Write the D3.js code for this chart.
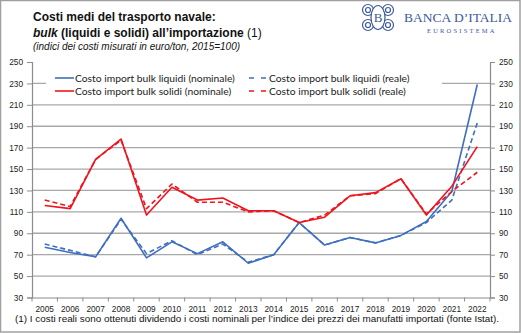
<!DOCTYPE html>
<html><head><meta charset="utf-8">
<script src="https://cdn.jsdelivr.net/npm/d3@7/dist/d3.min.js"></script>
<style>body{margin:0;background:#fff}svg{display:block}</style>
</head><body>
<svg id="c" width="521" height="333"></svg>
<script>
const years = ["2005","2006","2007","2008","2009","2010","2011","2012","2013","2014","2015","2016","2017","2018","2019","2020","2021","2022"];
const liquidiNominale = [77,72,68,104,67,82,71,82,62,70,100,79,86,81,88,101,129,229];
const liquidiReale    = [80,74,68,103,71,83,70,80,63,70,100,79,86,81,88,100,121,193];
const solidiNominale  = [116,113,159,178,107,133,121,123,111,111,100,105,125,128,141,107,134,171];
const solidiReale     = [121,115,159,177,113,136,119,119,110,111,100,107,125,127,141,108,129,147];
const yTicks = [30,50,70,90,110,130,150,170,190,210,230,250];
const legendLabels = ["Costo import bulk liquidi (nominale)","Costo import bulk liquidi (reale)","Costo import bulk solidi (nominale)","Costo import bulk solidi (reale)"];

const BLUE = "#3e6fc0", RED = "#f0141e";
const svg = d3.select("#c");
const L = 32, R = 490, T = 62, B = 297.5;
const x = d3.scaleBand().domain(years).range([L, R]);
const y = d3.scaleLinear().domain([30, 250]).range([B, T]);

// frame
svg.append("rect").attr("x",0.5).attr("y",0.5).attr("width",519.5).attr("height",331.5)
  .attr("fill","none").attr("stroke","#a0a0a0").attr("stroke-width",1.5);

// gridlines
svg.append("g").selectAll("line").data(yTicks.filter(d => d > 30 && d < 250)).join("line")
  .attr("x1", L).attr("x2", R).attr("y1", d => y(d)).attr("y2", d => y(d))
  .attr("stroke", "#a8a8a8").attr("stroke-width", 1.3);

// axes
const tickFont = g => g.selectAll("text").attr("font-family","Liberation Sans, Arial, sans-serif").attr("font-size","8.3px").attr("fill","#222");
const gl = svg.append("g").attr("transform",`translate(${L},0)`)
  .call(d3.axisLeft(y).tickValues(yTicks).tickSize(5).tickPadding(4));
const gr = svg.append("g").attr("transform",`translate(${R},0)`)
  .call(d3.axisRight(y).tickValues(yTicks).tickSize(5).tickPadding(4));
const gx = svg.append("g").attr("transform",`translate(0,${B})`)
  .call(d3.axisBottom(x).tickSize(0).tickPadding(9));
[gl,gr,gx].forEach(g => { g.select(".domain").attr("stroke","#8c8c8c").attr("stroke-width",1.2); g.selectAll("line").attr("stroke","#8c8c8c"); tickFont(g); });
// x ticks between categories
svg.append("g").selectAll("line").data(years.concat(["end"])).join("line")
  .attr("x1", (d,i) => L + i*x.step()).attr("x2", (d,i) => L + i*x.step())
  .attr("y1", B).attr("y2", B+4).attr("stroke","#8c8c8c");

// lines
const line = d3.line().x((d,i) => x(years[i]) + x.bandwidth()/2).y(d => y(d));
const series = [
  {v: liquidiNominale, c: BLUE, dash: null},
  {v: liquidiReale, c: BLUE, dash: "5,3"},
  {v: solidiNominale, c: RED, dash: null},
  {v: solidiReale, c: RED, dash: "5,3"}
];

svg.append("rect").attr("x",46).attr("y",67).attr("width",396).attr("height",31).attr("fill","#fff");

series.forEach(s => {
  svg.append("path").datum(s.v).attr("d", line).attr("fill","none")
    .attr("stroke", s.c).attr("stroke-width", 1.6).attr("stroke-dasharray", s.dash)
    .attr("stroke-linejoin","round");
});

// legend
const legPos = [[55,78],[249,78],[55,91],[249,91]];
legendLabels.forEach((t,i) => {
  const s = series[i], [lx,ly] = legPos[i];
  svg.append("line").attr("x1",lx).attr("x2",lx+19).attr("y1",ly).attr("y2",ly)
    .attr("stroke",s.c).attr("stroke-width",1.6).attr("stroke-dasharray", s.dash ? "5,7" : null);
  svg.append("text").attr("x",lx+20).attr("y",ly+3.5).text(t)
    .attr("font-family","Lato, Calibri, sans-serif").attr("font-size","10.3px").attr("fill","#222");
});

// titles
const tf = "Liberation Sans, Arial, sans-serif";
svg.append("text").attr("x",33).attr("y",21).attr("font-family",tf).attr("font-weight","bold")
  .attr("font-size","12px").attr("fill","#111").text("Costi medi del trasporto navale:");
const t2 = svg.append("text").attr("x",33).attr("y",37).attr("font-family",tf)
  .attr("font-size","12px").attr("fill","#111");
t2.append("tspan").attr("font-weight","bold").attr("font-style","italic").text("bulk");
t2.append("tspan").attr("font-weight","bold").text(" (liquidi e solidi) all’importazione ");
t2.append("tspan").text("(1)");
svg.append("text").attr("x",33).attr("y",50).attr("font-family",tf).attr("font-style","italic")
  .attr("font-size","10px").attr("fill","#111").text("(indici dei costi misurati in euro/ton, 2015=100)");

// footnote
svg.append("text").attr("x",15).attr("y",322).attr("font-family",tf)
  .attr("font-size","9.9px").attr("fill","#111")
  .text("(1) I costi reali sono ottenuti dividendo i costi nominali per l’indice dei prezzi dei manufatti importati (fonte Istat).");

// logo
const LB = "#3d5a98";
const logo = svg.append("g").attr("fill","none").attr("stroke",LB).attr("stroke-width",1.2);
[[368,10],[388,10],[368,25],[388,25]].forEach(([cx,cy]) => {
  logo.append("circle").attr("cx",cx).attr("cy",cy).attr("r",5.5);
  logo.append("circle").attr("cx",cx).attr("cy",cy).attr("r",2.5);
});
logo.append("ellipse").attr("cx",378).attr("cy",17.5).attr("rx",7).attr("ry",12).attr("fill","#fff");
svg.append("text").attr("x",378).attr("y",22).attr("text-anchor","middle").attr("font-family","Liberation Serif, serif")
  .attr("font-size","13px").attr("fill",LB).text("B");
svg.append("text").attr("x",404).attr("y",22).attr("font-family","Liberation Serif, serif")
  .attr("font-size","13.5px").attr("fill",LB).text("BANCA D’ITALIA");
svg.append("text").attr("x",427).attr("y",33).attr("font-family","Liberation Serif, serif")
  .attr("font-size","6.5px").attr("letter-spacing","2.2px").attr("fill",LB).text("EUROSISTEMA");
</script>
</body></html>
